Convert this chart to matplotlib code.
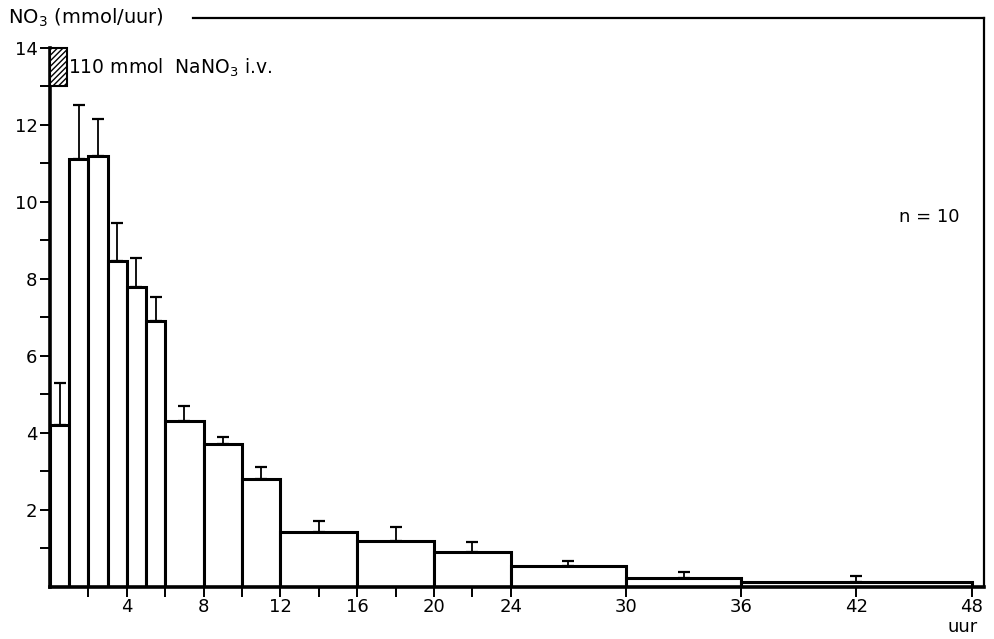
import matplotlib
matplotlib.use("Agg")
import matplotlib.pyplot as plt
from matplotlib.patches import Rectangle
import numpy as np

# Data (hours, mmol NO3 per hour)
bin_starts = [0, 1, 2, 3, 4, 5, 6, 8, 10, 12, 16, 20, 24, 30, 36]
bin_widths = [1, 1, 1, 1, 1, 1, 2, 2, 2, 4, 4, 4, 6, 6, 12]
means = [4.2, 11.1, 11.2, 8.45, 7.8, 6.9, 4.3, 3.7, 2.8, 1.42, 1.2, 0.92, 0.55, 0.23, 0.14]
errors_up = [1.1, 1.4, 0.95, 1.0, 0.73, 0.63, 0.4, 0.19, 0.32, 0.29, 0.35, 0.24, 0.12, 0.16, 0.15]

x_major = [4, 8, 12, 16, 20, 24, 30, 36, 42, 48]
x_minor = [2, 6, 10, 14, 18, 22]
y_major = [2, 4, 6, 8, 10, 12, 14]
y_minor = [1, 3, 5, 7, 9, 11, 13]

infusion_start, infusion_width = 0, 0.9
infusion_low, infusion_high = 13, 14

plt.rcParams['font.family'] = ['DejaVu Sans']
plt.rcParams['hatch.linewidth'] = 1.0
FS = 13

fig = plt.figure(figsize=(9.95, 6.39), dpi=100)
ax = fig.add_axes([50/995, 1-587/639, (984-50)/995, (587-18)/639])

ax.bar(bin_starts, means, width=bin_widths, align='edge', color='white',
       edgecolor='black', linewidth=2.2, zorder=2)
centers = [s + w/2 for s, w in zip(bin_starts, bin_widths)]
ax.errorbar(centers, means, yerr=[np.zeros(len(means)), errors_up], fmt='none',
            ecolor='black', elinewidth=1.3, capsize=4, capthick=1.6, zorder=3)

ax.add_patch(Rectangle((infusion_start, infusion_low), infusion_width,
                       infusion_high - infusion_low, facecolor='white',
                       edgecolor='black', hatch='//////', linewidth=1.5, zorder=3))
ax.text(infusion_width + 0.05, (infusion_low + infusion_high)/2 - 0.02,
        '110 mmol  NaNO$_3$ i.v.', fontsize=FS + 0.5, va='center', ha='left')

ax.set_xlim(0, 48.65)
ax.set_ylim(0, 14.77)

ax.set_xticks(x_major)
ax.set_xticklabels([str(v) for v in x_major], fontsize=FS)
ax.set_xticks(x_minor, minor=True)
ax.set_yticks(y_major)
ax.set_yticklabels([str(v) for v in y_major], fontsize=FS)
ax.set_yticks(y_minor, minor=True)
ax.tick_params(axis='both', which='both', direction='out', length=7, width=1.4,
               color='black')
ax.tick_params(axis='x', which='both', pad=1)
ax.tick_params(axis='y', which='both', pad=2)

for side in ['left', 'bottom']:
    ax.spines[side].set_linewidth(2.6)
ax.spines['left'].set_bounds(0, 14)
ax.spines['top'].set_linewidth(1.6)
ax.spines['top'].set_bounds(7.45, 48.65)
ax.spines['right'].set_linewidth(1.6)

fig.text(8/995, 1-18/639, 'NO$_3$ (mmol/uur)', fontsize=FS + 1, va='center', ha='left')
ax.text(45.8, 9.6, 'n = 10', fontsize=FS, ha='center', va='center')
fig.text(978/995, 1-627/639, 'uur', fontsize=FS, ha='right', va='center')

fig.savefig('out.png', dpi=100)
